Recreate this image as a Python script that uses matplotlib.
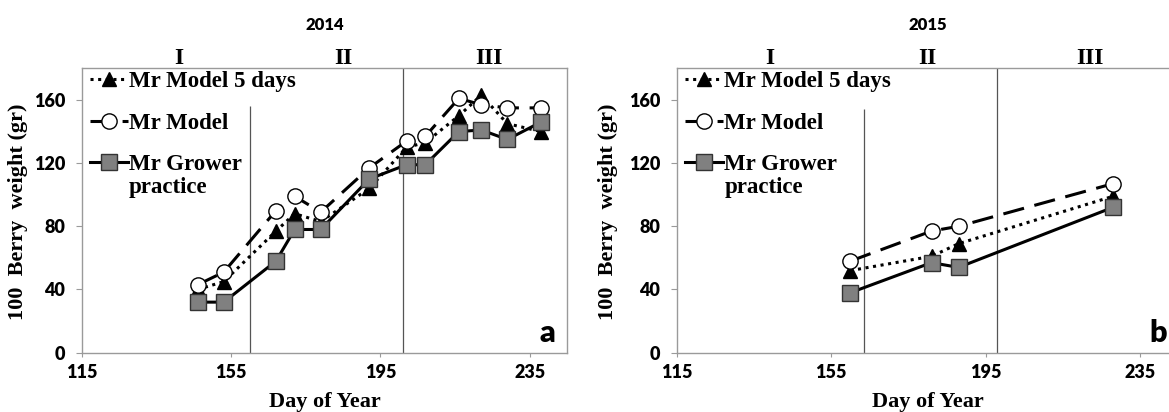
import matplotlib
matplotlib.use("Agg")
import matplotlib.pyplot as plt

# --- data (day of year vs 100 berry weight, g) ---
days_2014 = [146, 153, 167, 172, 179, 192, 202, 207, 216, 222, 229, 238]
model5_2014 = [40, 45, 77, 88, 83, 104, 130, 133, 150, 163, 145, 140]
model_2014 = [43, 51, 90, 99, 89, 117, 134, 137, 161, 157, 155, 155]
grower_2014 = [32, 32, 58, 78, 78, 110, 119, 119, 140, 141, 135, 146]

days_2015 = [160, 181, 188, 228]
model5_2015 = [52, 61, 69, 99]
model_2015 = [58, 77, 80, 107]
grower_2015 = [38, 57, 54, 92]

stage_names = ["I", "II", "III"]
stage_pos_2014 = [141, 185, 224]
stage_pos_2015 = [139, 180, 222]
# stage boundaries (day) and how high each line goes
bounds_2014 = [160, 201]
bounds_top_2014 = [156, 180]
bounds_2015 = [163.5, 198]
bounds_top_2015 = [154, 180]

x_ticks = [115, 155, 195, 235]
y_ticks = [0, 40, 80, 120, 160]

SERIF = "Liberation Serif"
SANS = "Lato"
SPINE = "#9a9a9a"


def draw_panel(ax, days, m5, m, g, year, stage_pos, bounds, tops, letter, ylab_x):
    ax.vlines(bounds, 0, tops, colors="#555555", linewidth=0.9, zorder=1)

    ax.plot(days, m5, color="black", linestyle=(0, (1, 1.5)), linewidth=2.2,
            marker="^", markersize=10, markerfacecolor="black",
            markeredgecolor="black", label="Mr Model 5 days", zorder=3)
    ax.plot(days, m, color="black", linestyle=(0, (7, 3.5)), linewidth=2.2,
            marker="o", markersize=11, markerfacecolor="white",
            markeredgecolor="black", markeredgewidth=1.0, label="Mr Model", zorder=4)
    ax.plot(days, g, color="black", linestyle="-", linewidth=2.2,
            marker="s", markersize=11, markerfacecolor="#808080",
            markeredgecolor="#333333", markeredgewidth=1.0,
            label="Mr Grower", zorder=5)

    ax.set_xlim(115, 245)
    ax.set_ylim(0, 180)
    ax.set_xticks(x_ticks)
    ax.set_yticks(y_ticks)
    for lab in ax.get_xticklabels() + ax.get_yticklabels():
        lab.set_fontfamily(SANS)
        lab.set_fontweight("heavy")
        lab.set_fontsize(13)
    ax.tick_params(axis="x", direction="out", length=3, width=0.8, color=SPINE, pad=5)
    ax.tick_params(axis="y", direction="out", length=4.5, width=0.8, color=SPINE, pad=7.5)
    for sp in ax.spines.values():
        sp.set_color(SPINE)
        sp.set_linewidth(1.0)

    ax.set_xlabel("Day of Year", family=SERIF, fontweight="bold", fontsize=16, va="center")
    ax.set_ylabel("100  Berry  weight (gr)", family=SERIF, fontweight="bold", fontsize=16,
                  va="center")
    ax.xaxis.set_label_coords(0.5, -0.172)
    ax.yaxis.set_label_coords(ylab_x, 0.495)

    # year on top, stage numerals just above the frame
    ax.text(0.5, 1.151, year, transform=ax.transAxes, ha="center", va="center",
            family=SANS, fontweight="heavy", fontsize=12)
    tr = ax.get_xaxis_transform()
    for name, xp in zip(stage_names, stage_pos):
        ax.text(xp, 1.035, name, transform=tr, ha="center", va="center",
                family=SERIF, fontweight="bold", fontsize=17)

    ax.text(0.96, 0.038, letter, transform=ax.transAxes, ha="center", va="baseline",
            family=SANS, fontweight="heavy", fontsize=22)

    leg = ax.legend(loc="upper left", bbox_to_anchor=(0.0165, 0.99), frameon=False,
                    borderpad=0, borderaxespad=0, labelspacing=0.89,
                    handlelength=1.66, handletextpad=0.05,
                    prop={"family": SERIF, "weight": "bold", "size": 16.5})
    ax.annotate("practice", xy=(0, 0), xycoords=leg.get_texts()[2],
                xytext=(0, -1), textcoords="offset points", ha="left", va="top",
                family=SERIF, fontweight="bold", fontsize=16.5, zorder=6)


fig = plt.figure(figsize=(11.69, 4.12), dpi=100)
ax1 = fig.add_axes([0.0701, 0.144, 0.415, 0.690])
ax2 = fig.add_axes([0.5789, 0.144, 0.4293, 0.690])

draw_panel(ax1, days_2014, model5_2014, model_2014, grower_2014, "2014",
           stage_pos_2014, bounds_2014, bounds_top_2014, "a", -0.132)
draw_panel(ax2, days_2015, model5_2015, model_2015, grower_2015, "2015",
           stage_pos_2015, bounds_2015, bounds_top_2015, "b", -0.136)

fig.canvas.draw()
fig.savefig("out.png", dpi=100)
